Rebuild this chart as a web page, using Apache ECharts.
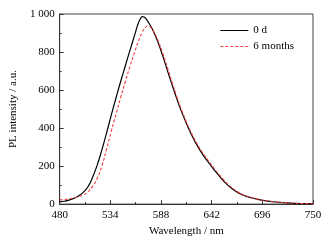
<!DOCTYPE html>
<html>
<head>
<meta charset="utf-8">
<script src="https://cdn.jsdelivr.net/npm/echarts@6/dist/echarts.min.js"></script>
<style>
html, body { margin: 0; padding: 0; background: #fff; }
#chart { width: 335px; height: 242px; }
</style>
</head>
<body>
<div id="chart"></div>
<script>
// 波长刻度
var xTicks = [480, 534, 588, 642, 696, 750];
var xMinorTicks = [507, 561, 615, 669, 723];

// 0 d 曲线
var wl0 = [480, 485, 490, 495, 500, 505, 510, 515, 520, 525, 530, 535, 540, 545, 550, 555, 560, 563, 566, 568, 570, 573, 576, 580, 585, 590, 595, 600, 605, 610, 615, 620, 625, 630, 635, 640, 645, 650, 655, 660, 665, 670, 675, 680, 685, 690, 695, 700, 710, 720, 730, 740, 750];
var pl0 = [12, 15, 21, 30, 43, 62, 90, 140, 205, 285, 375, 468, 558, 645, 728, 810, 890, 940, 975, 986, 984, 968, 945, 908, 848, 777, 700, 625, 552, 485, 425, 370, 322, 280, 243, 210, 178, 148, 120, 96, 76, 60, 48, 39, 32, 26, 21, 17, 11, 7, 4, 3, 2];

// 6 months 曲线
var wl6 = [480, 485, 490, 495, 500, 505, 510, 515, 520, 525, 530, 535, 540, 545, 550, 555, 560, 564, 568, 571, 574, 577, 580, 585, 590, 595, 600, 605, 610, 615, 620, 625, 630, 635, 640, 645, 650, 655, 660, 665, 670, 675, 680, 685, 690, 695, 700, 710, 720, 730, 740, 750];
var pl6 = [22, 24, 27, 32, 38, 48, 64, 92, 135, 200, 288, 382, 473, 560, 645, 725, 800, 858, 905, 928, 937, 930, 910, 858, 792, 716, 638, 563, 495, 433, 378, 330, 288, 252, 218, 186, 155, 127, 102, 81, 64, 51, 41, 33, 27, 22, 18, 12, 8, 5, 3, 2];

function pairs(xs, ys) {
    var out = [];
    for (var i = 0; i < xs.length; i++) {
        out.push([xs[i], ys[i]]);
    }
    return out;
}

var font = '"Liberation Serif", "Times New Roman", serif';
var chart = echarts.init(document.getElementById('chart'));
chart.setOption({
    animation: false,
    textStyle: { fontFamily: font },
    grid: {
        left: 51, right: 22, top: 14, bottom: 36,
        show: true, borderColor: '#444', borderWidth: 1
    },
    legend: {
        right: 36, top: 20,
        orient: 'vertical',
        itemWidth: 28, itemHeight: 12, itemGap: 5,
        itemStyle: { opacity: 0 },
        lineStyle: { width: 1 },
        textStyle: { fontFamily: font, fontSize: 11, color: '#000' },
        data: ['0 d', '6 months']
    },
    xAxis: [{
        type: 'value', min: 480, max: 750,
        name: 'Wavelength / nm', nameLocation: 'middle', nameGap: 21,
        nameTextStyle: { fontFamily: font, fontSize: 11, color: '#000' },
        axisLine: { lineStyle: { color: '#333' } },
        axisTick: { inside: true, length: 4, customValues: xTicks, lineStyle: { color: '#333' } },
        axisLabel: { customValues: xTicks, fontFamily: font, fontSize: 11, color: '#000', margin: 6 },
        splitLine: { show: false }
    }, {
        type: 'value', min: 480, max: 750, position: 'bottom',
        axisLine: { show: false },
        axisTick: { inside: true, length: 2, customValues: xMinorTicks, lineStyle: { color: '#333' } },
        axisLabel: { show: false },
        splitLine: { show: false }
    }],
    yAxis: {
        type: 'value', min: 0, max: 1000, interval: 200,
        name: 'PL intensity / a.u.', nameLocation: 'middle', nameGap: 36,
        nameTextStyle: { fontFamily: font, fontSize: 11, color: '#000' },
        axisLine: { show: true, lineStyle: { color: '#333' } },
        axisTick: { show: true, inside: true, length: 4, lineStyle: { color: '#333' } },
        minorTick: { show: true, splitNumber: 2, length: 2, lineStyle: { color: '#333' } },
        axisLabel: {
            fontFamily: font, fontSize: 11, color: '#000', margin: 5,
            formatter: function (v) { return v === 1000 ? '1 000' : String(v); }
        },
        splitLine: { show: false }
    },
    series: [{
        name: '0 d', type: 'line', smooth: true, symbol: 'none',
        data: pairs(wl0, pl0),
        lineStyle: { color: '#000', width: 1.2 },
        itemStyle: { color: '#000' }
    }, {
        name: '6 months', type: 'line', smooth: true, symbol: 'none',
        data: pairs(wl6, pl6),
        lineStyle: { color: '#f03c3c', width: 1.1, type: [3, 2] },
        itemStyle: { color: '#f03c3c' }
    }]
});
</script>
</body>
</html>
